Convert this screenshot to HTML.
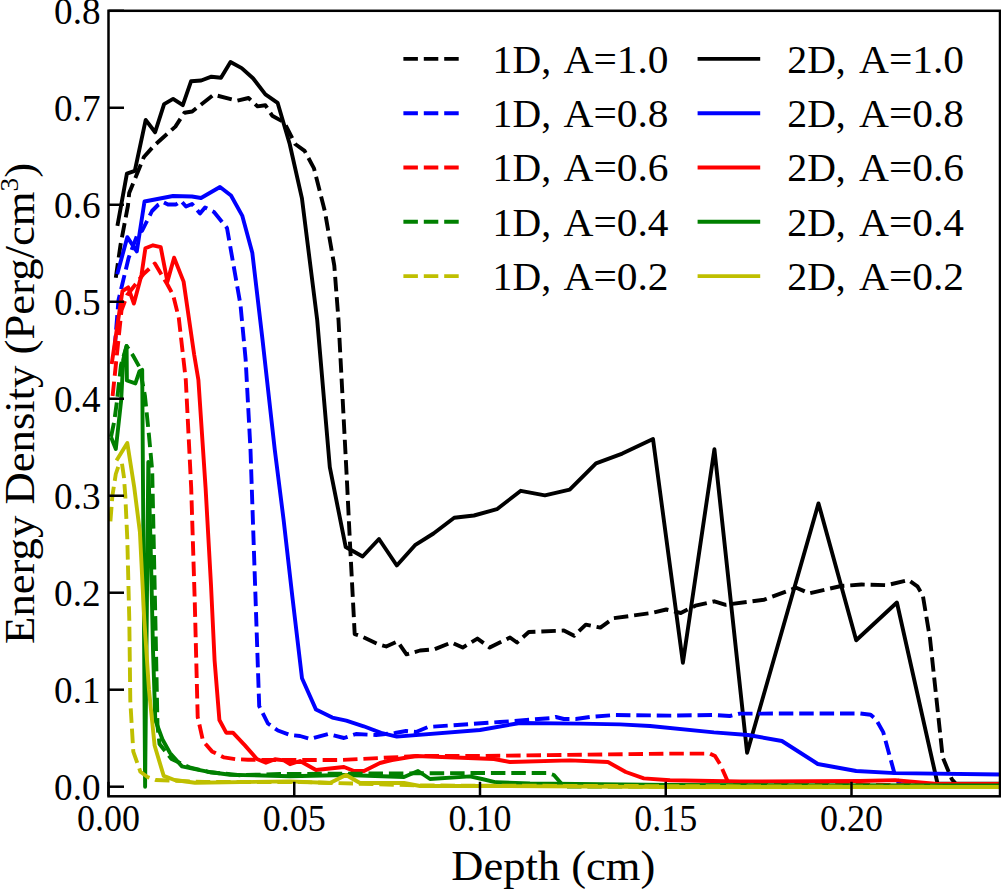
<!DOCTYPE html>
<html><head><meta charset="utf-8"><style>
html,body{margin:0;padding:0;background:#fff;overflow:hidden}
svg{display:block;font-family:"Liberation Serif",serif}
text{fill:#000}
</style></head><body>
<svg width="1001" height="889" viewBox="0 0 1001 889">
<rect width="1001" height="889" fill="#fff"/>
<polyline fill="none" stroke="#000000" stroke-width="3.9" stroke-linejoin="round" stroke-linecap="butt" points="117.4,225.9 126.9,173.6 134.8,170.8 145.7,119.9 155.1,132.2 164.1,104.1 173.1,98.9 182.8,105.2 191.1,81.2 201.2,80.5 211.4,76.7 221.0,77.8 230.5,62.0 241.7,68.1 253.0,78.2 265.4,94.4 277.6,102.8 289.7,144.0 301.9,198.1 317.2,320.0 329.8,467.2 345.7,547.0 362.6,556.5 379.0,539.0 396.8,565.5 415.0,545.2 433.5,533.5 454.2,517.8 474.0,515.5 496.9,509.2 520.8,490.8 544.9,495.4 569.7,489.6 596.0,463.3 622.3,453.6 653.0,439.0 682.9,662.7 714.4,449.2 747.1,752.8 818.5,503.4 856.2,640.3 896.9,602.5 937.5,783.5 1001.0,783.7"/>
<polyline fill="none" stroke="#000000" stroke-width="3.9" stroke-linejoin="round" stroke-linecap="butt" stroke-dasharray="14.5 5.9" points="115.8,277.7 120.5,245.0 128.0,205.4 129.2,193.0 143.9,157.0 154.0,145.7 175.4,126.6 184.4,112.7 192.2,111.5 213.6,94.7 237.2,100.7 248.5,98.0 257.5,106.4 265.4,105.2 272.2,115.7 284.3,122.4 295.1,144.0 304.6,150.8 314.0,168.4 324.9,211.6 334.3,265.7 338.5,320.0 346.9,480.0 350.2,547.5 354.7,634.1 361.5,636.4 377.2,643.8 386.2,646.5 397.5,641.5 406.5,654.4 420.0,650.5 434.6,649.2 451.5,642.4 462.7,647.6 477.4,638.6 489.7,647.6 510.0,637.5 517.0,642.5 528.8,632.0 563.9,630.5 574.1,635.8 585.8,624.7 600.4,627.6 613.6,618.2 651.6,613.0 666.2,609.5 680.8,613.0 695.4,605.7 714.4,601.3 725.7,604.8 764.2,599.7 796.3,587.7 809.1,593.3 841.2,586.0 861.6,584.5 886.8,585.2 908.4,580.1 917.4,586.3 922.8,595.3 930.0,638.5 942.7,757.3 951.7,779.0 956.0,784.0 1001.0,784.5"/>
<polyline fill="none" stroke="#0000ff" stroke-width="3.9" stroke-linejoin="round" stroke-linecap="butt" stroke-dasharray="14.5 5.9" points="114.5,350.0 118.5,300.0 128.6,258.0 138.7,231.0 142.0,231.0 146.0,223.0 152.0,211.0 158.0,205.0 163.0,202.0 168.0,204.5 176.0,204.5 181.0,201.0 186.0,206.5 192.0,204.0 200.0,213.5 205.0,207.5 214.0,212.0 227.0,228.0 240.5,305.0 245.6,359.0 250.5,450.0 259.2,706.1 267.9,723.5 277.9,730.5 290.0,735.0 300.0,736.0 310.0,739.0 328.0,734.0 344.0,738.0 356.0,734.0 376.0,735.0 395.0,733.0 406.0,731.0 416.0,732.0 428.0,727.0 500.0,722.0 551.8,718.0 555.8,717.0 563.8,719.0 575.8,719.0 590.0,717.0 614.0,715.0 670.0,715.6 713.9,715.0 729.8,716.0 739.8,713.6 860.0,713.5 870.6,714.8 876.0,719.5 883.2,732.1 895.9,778.7 900.0,784.0 1001.0,785.0"/>
<polyline fill="none" stroke="#0000ff" stroke-width="3.9" stroke-linejoin="round" stroke-linecap="butt" points="117.2,274.3 127.3,237.2 136.8,251.4 144.5,201.5 160.0,198.5 173.0,196.0 192.0,196.5 201.0,198.0 220.0,187.0 231.0,195.5 242.2,215.6 252.3,252.7 262.4,338.7 274.8,450.0 283.6,519.7 292.3,596.3 302.0,678.2 316.0,709.6 332.3,717.6 346.3,720.7 363.7,726.3 381.1,732.9 396.8,736.6 480.0,730.0 519.9,723.0 580.0,723.6 620.0,724.4 650.0,726.0 713.9,732.4 748.0,735.0 781.9,741.0 817.8,764.0 856.2,771.0 895.2,773.1 1001.0,774.5"/>
<polyline fill="none" stroke="#ff0000" stroke-width="3.9" stroke-linejoin="round" stroke-linecap="butt" stroke-dasharray="14.5 5.9" points="112.6,396.0 121.5,310.3 127.2,295.0 135.0,285.0 143.5,274.0 154.9,263.5 167.4,284.5 173.1,295.0 178.8,318.0 185.8,380.0 191.2,488.0 194.8,603.0 197.7,717.0 203.0,741.0 212.0,751.4 224.0,757.4 236.0,759.2 248.0,759.7 280.0,760.0 340.0,760.0 380.0,758.0 420.0,756.0 480.0,756.0 670.0,753.6 710.0,753.6 715.0,756.0 720.0,764.0 728.0,782.0 732.0,785.0 1001.0,785.0"/>
<polyline fill="none" stroke="#ff0000" stroke-width="3.9" stroke-linejoin="round" stroke-linecap="butt" points="111.7,364.0 122.4,291.2 128.2,287.4 133.9,303.6 141.5,274.9 145.4,248.2 153.0,245.3 160.7,247.2 167.4,281.6 174.1,257.7 183.6,281.6 194.1,354.3 198.4,380.0 205.6,488.0 211.0,585.0 214.6,660.6 219.4,720.0 226.2,732.7 232.9,732.7 244.9,745.4 256.9,759.0 265.9,762.7 274.9,759.2 283.9,760.4 290.0,764.2 300.0,761.0 316.0,770.0 344.0,767.0 354.0,771.0 364.0,771.0 380.0,763.0 392.0,760.0 416.0,756.0 494.0,759.0 510.0,762.0 570.0,760.4 607.9,762.0 625.8,772.0 643.8,778.4 670.0,780.3 740.0,781.5 860.0,781.0 895.2,780.1 937.5,784.0 1001.0,784.0"/>
<polyline fill="none" stroke="#008000" stroke-width="3.9" stroke-linejoin="round" stroke-linecap="butt" stroke-dasharray="14.5 5.9" points="111.0,437.0 114.3,421.0 116.8,402.5 121.0,365.0 126.6,346.0 132.7,355.0 139.5,367.2 144.9,395.5 148.9,434.5 152.2,470.5 155.6,630.0 157.5,726.0 159.5,744.0 171.5,759.0 190.5,767.7 210.0,772.2 240.0,775.2 280.0,774.0 480.0,773.0 547.9,773.0 553.9,775.0 560.9,783.0 564.0,786.5 1001.0,786.5"/>
<polyline fill="none" stroke="#008000" stroke-width="3.9" stroke-linejoin="round" stroke-linecap="butt" points="111.0,437.0 115.8,449.0 121.2,400.0 123.2,360.0 126.6,346.0 126.9,380.5 135.4,383.4 139.5,371.2 142.2,369.9 145.1,786.7 148.3,462.0 151.0,560.0 153.0,650.0 155.3,720.0 162.5,739.5 170.0,753.0 182.0,766.4 192.5,768.7 207.4,771.7 230.0,774.7 290.0,776.2 346.0,775.0 404.0,777.0 418.0,771.0 430.0,779.0 470.0,776.4 482.0,779.0 496.0,782.3 530.0,783.5 670.0,785.0 1001.0,785.5"/>
<polyline fill="none" stroke="#bfbf00" stroke-width="3.9" stroke-linejoin="round" stroke-linecap="butt" stroke-dasharray="14.5 5.9" points="110.4,521.4 112.4,495.7 115.8,474.0 118.5,466.0 121.9,463.2 123.9,476.8 125.3,495.7 127.3,539.0 129.3,620.0 130.3,701.0 133.3,751.6 140.4,771.8 147.5,777.0 155.6,780.0 205.0,782.0 300.0,782.0 420.0,785.5 1001.0,787.0"/>
<polyline fill="none" stroke="#bfbf00" stroke-width="3.9" stroke-linejoin="round" stroke-linecap="butt" points="116.5,460.5 127.3,443.0 134.2,487.0 139.9,532.0 144.3,620.0 149.0,690.0 154.6,745.5 163.7,775.9 174.5,780.0 195.0,782.7 290.0,781.4 330.0,783.0 346.0,775.0 360.0,783.0 404.0,783.0 420.0,786.0 480.0,786.0 670.0,787.0 1001.0,787.0"/>
<line x1="108.50" y1="796.3" x2="108.50" y2="781.8" stroke="#000" stroke-width="2.5"/>
<line x1="294.25" y1="796.3" x2="294.25" y2="781.8" stroke="#000" stroke-width="2.5"/>
<line x1="480.00" y1="796.3" x2="480.00" y2="781.8" stroke="#000" stroke-width="2.5"/>
<line x1="665.75" y1="796.3" x2="665.75" y2="781.8" stroke="#000" stroke-width="2.5"/>
<line x1="851.50" y1="796.3" x2="851.50" y2="781.8" stroke="#000" stroke-width="2.5"/>
<line x1="108.5" y1="786.70" x2="124.0" y2="786.70" stroke="#000" stroke-width="2.5"/>
<line x1="108.5" y1="689.71" x2="124.0" y2="689.71" stroke="#000" stroke-width="2.5"/>
<line x1="108.5" y1="592.72" x2="124.0" y2="592.72" stroke="#000" stroke-width="2.5"/>
<line x1="108.5" y1="495.73" x2="124.0" y2="495.73" stroke="#000" stroke-width="2.5"/>
<line x1="108.5" y1="398.74" x2="124.0" y2="398.74" stroke="#000" stroke-width="2.5"/>
<line x1="108.5" y1="301.75" x2="124.0" y2="301.75" stroke="#000" stroke-width="2.5"/>
<line x1="108.5" y1="204.76" x2="124.0" y2="204.76" stroke="#000" stroke-width="2.5"/>
<line x1="108.5" y1="107.77" x2="124.0" y2="107.77" stroke="#000" stroke-width="2.5"/>
<line x1="108.5" y1="10.78" x2="124.0" y2="10.78" stroke="#000" stroke-width="2.5"/>
<rect x="108.5" y="10.8" width="891.5" height="785.5" fill="none" stroke="#000" stroke-width="2.5"/>
<text x="100.6" y="799.9" text-anchor="end" font-size="38" textLength="46.5" lengthAdjust="spacingAndGlyphs">0.0</text>
<text x="100.6" y="702.9" text-anchor="end" font-size="38" textLength="46.5" lengthAdjust="spacingAndGlyphs">0.1</text>
<text x="100.6" y="605.9" text-anchor="end" font-size="38" textLength="46.5" lengthAdjust="spacingAndGlyphs">0.2</text>
<text x="100.6" y="508.9" text-anchor="end" font-size="38" textLength="46.5" lengthAdjust="spacingAndGlyphs">0.3</text>
<text x="100.6" y="411.9" text-anchor="end" font-size="38" textLength="46.5" lengthAdjust="spacingAndGlyphs">0.4</text>
<text x="100.6" y="315.0" text-anchor="end" font-size="38" textLength="46.5" lengthAdjust="spacingAndGlyphs">0.5</text>
<text x="100.6" y="218.0" text-anchor="end" font-size="38" textLength="46.5" lengthAdjust="spacingAndGlyphs">0.6</text>
<text x="100.6" y="121.0" text-anchor="end" font-size="38" textLength="46.5" lengthAdjust="spacingAndGlyphs">0.7</text>
<text x="100.6" y="24.0" text-anchor="end" font-size="38" textLength="46.5" lengthAdjust="spacingAndGlyphs">0.8</text>
<text x="77.0" y="830.8" font-size="38" textLength="63" lengthAdjust="spacingAndGlyphs">0.00</text>
<text x="262.8" y="830.8" font-size="38" textLength="63" lengthAdjust="spacingAndGlyphs">0.05</text>
<text x="448.5" y="830.8" font-size="38" textLength="63" lengthAdjust="spacingAndGlyphs">0.10</text>
<text x="634.2" y="830.8" font-size="38" textLength="63" lengthAdjust="spacingAndGlyphs">0.15</text>
<text x="820.0" y="830.8" font-size="38" textLength="63" lengthAdjust="spacingAndGlyphs">0.20</text>
<text x="451.3" y="879.6" font-size="43" textLength="204" lengthAdjust="spacingAndGlyphs">Depth (cm)</text>
<text transform="translate(33.8,643.9) rotate(-90)" x="0" y="0" font-size="42.5" textLength="481" lengthAdjust="spacingAndGlyphs">Energy Density (Perg/cm<tspan font-size="26" dy="-16">3</tspan><tspan dy="16">)</tspan></text>
<line x1="403.4" y1="58.9" x2="459.2" y2="58.9" stroke="#000000" stroke-width="3.9" stroke-dasharray="14.5 5.9"/>
<line x1="697.6" y1="58.9" x2="760.2" y2="58.9" stroke="#000000" stroke-width="3.9"/>
<text x="492.6" y="72.8" font-size="39.3" textLength="58.5" lengthAdjust="spacingAndGlyphs">1D,</text>
<text x="563.5" y="72.8" font-size="39.3" textLength="105" lengthAdjust="spacingAndGlyphs">A=1.0</text>
<text x="787.3" y="72.8" font-size="39.3" textLength="58.5" lengthAdjust="spacingAndGlyphs">2D,</text>
<text x="859.0" y="72.8" font-size="39.3" textLength="105" lengthAdjust="spacingAndGlyphs">A=1.0</text>
<line x1="403.4" y1="113.2" x2="459.2" y2="113.2" stroke="#0000ff" stroke-width="3.9" stroke-dasharray="14.5 5.9"/>
<line x1="697.6" y1="113.2" x2="760.2" y2="113.2" stroke="#0000ff" stroke-width="3.9"/>
<text x="492.6" y="127.1" font-size="39.3" textLength="58.5" lengthAdjust="spacingAndGlyphs">1D,</text>
<text x="563.5" y="127.1" font-size="39.3" textLength="105" lengthAdjust="spacingAndGlyphs">A=0.8</text>
<text x="787.3" y="127.1" font-size="39.3" textLength="58.5" lengthAdjust="spacingAndGlyphs">2D,</text>
<text x="859.0" y="127.1" font-size="39.3" textLength="105" lengthAdjust="spacingAndGlyphs">A=0.8</text>
<line x1="403.4" y1="167.5" x2="459.2" y2="167.5" stroke="#ff0000" stroke-width="3.9" stroke-dasharray="14.5 5.9"/>
<line x1="697.6" y1="167.5" x2="760.2" y2="167.5" stroke="#ff0000" stroke-width="3.9"/>
<text x="492.6" y="181.4" font-size="39.3" textLength="58.5" lengthAdjust="spacingAndGlyphs">1D,</text>
<text x="563.5" y="181.4" font-size="39.3" textLength="105" lengthAdjust="spacingAndGlyphs">A=0.6</text>
<text x="787.3" y="181.4" font-size="39.3" textLength="58.5" lengthAdjust="spacingAndGlyphs">2D,</text>
<text x="859.0" y="181.4" font-size="39.3" textLength="105" lengthAdjust="spacingAndGlyphs">A=0.6</text>
<line x1="403.4" y1="221.8" x2="459.2" y2="221.8" stroke="#008000" stroke-width="3.9" stroke-dasharray="14.5 5.9"/>
<line x1="697.6" y1="221.8" x2="760.2" y2="221.8" stroke="#008000" stroke-width="3.9"/>
<text x="492.6" y="235.7" font-size="39.3" textLength="58.5" lengthAdjust="spacingAndGlyphs">1D,</text>
<text x="563.5" y="235.7" font-size="39.3" textLength="105" lengthAdjust="spacingAndGlyphs">A=0.4</text>
<text x="787.3" y="235.7" font-size="39.3" textLength="58.5" lengthAdjust="spacingAndGlyphs">2D,</text>
<text x="859.0" y="235.7" font-size="39.3" textLength="105" lengthAdjust="spacingAndGlyphs">A=0.4</text>
<line x1="403.4" y1="276.1" x2="459.2" y2="276.1" stroke="#bfbf00" stroke-width="3.9" stroke-dasharray="14.5 5.9"/>
<line x1="697.6" y1="276.1" x2="760.2" y2="276.1" stroke="#bfbf00" stroke-width="3.9"/>
<text x="492.6" y="290.0" font-size="39.3" textLength="58.5" lengthAdjust="spacingAndGlyphs">1D,</text>
<text x="563.5" y="290.0" font-size="39.3" textLength="105" lengthAdjust="spacingAndGlyphs">A=0.2</text>
<text x="787.3" y="290.0" font-size="39.3" textLength="58.5" lengthAdjust="spacingAndGlyphs">2D,</text>
<text x="859.0" y="290.0" font-size="39.3" textLength="105" lengthAdjust="spacingAndGlyphs">A=0.2</text>
</svg>
</body></html>
